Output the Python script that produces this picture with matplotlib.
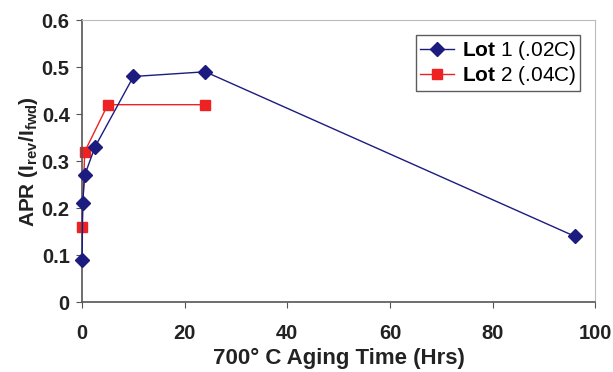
import matplotlib
matplotlib.use("Agg")
import matplotlib.pyplot as plt

plt.rcParams["font.family"] = ["Liberation Sans", "DejaVu Sans"]
plt.rcParams["mathtext.fontset"] = "custom"
plt.rcParams["mathtext.rm"] = "Liberation Sans"
plt.rcParams["mathtext.bf"] = "Liberation Sans:bold"

# Lot 1 (.02C)
lot1_hours = [0, 0.1, 0.5, 2.5, 10, 24, 96]
lot1_apr = [0.09, 0.21, 0.27, 0.33, 0.48, 0.49, 0.14]

# Lot 2 (.04C)
lot2_hours = [0, 0.5, 5, 24]
lot2_apr = [0.16, 0.32, 0.42, 0.42]

xticks = [0, 20, 40, 60, 80, 100]
yticks = [0, 0.1, 0.2, 0.3, 0.4, 0.5, 0.6]
ytick_labels = ["0", "0.1", "0.2", "0.3", "0.4", "0.5", "0.6"]

fig = plt.figure(figsize=(6.13, 3.72), dpi=100)
ax = fig.add_axes([0.134, 0.188, 0.837, 0.758])

ax.plot(lot1_hours, lot1_apr, color="#1c1c80", lw=1, marker="D",
        markersize=7, label=r"$\bf{Lot}$ 1 (.02C)", zorder=3, clip_on=False)
ax.plot(lot2_hours, lot2_apr, color="#ee2222", lw=1, marker="s",
        markersize=7, label=r"$\bf{Lot}$ 2 (.04C)", zorder=2, clip_on=False)

ax.set_xlim(0, 100)
ax.set_ylim(0, 0.6)
ax.set_xticks(xticks)
ax.set_yticks(yticks)
ax.set_yticklabels(ytick_labels)

for s in ["top", "right"]:
    ax.spines[s].set_color("#bbbbbb")
for s in ["left", "bottom"]:
    ax.spines[s].set_color("#555555")
    ax.spines[s].set_linewidth(1.2)

ax.tick_params(axis="both", labelsize=14.5, direction="out", length=4,
               color="#555555", pad=5)
ax.tick_params(axis="x", pad=12)
for lab in ax.get_xticklabels() + ax.get_yticklabels():
    lab.set_fontweight("bold")
    lab.set_color("#222222")

ax.set_xlabel("700° C Aging Time (Hrs)", fontsize=16, fontweight="bold",
              color="#222222", labelpad=3)
ax.set_ylabel(r"APR (I$_{\bf{rev}}$/I$_{\bf{fwd}}$)", fontsize=15,
              fontweight="bold", color="#222222", labelpad=1)

leg = ax.legend(loc="upper right", bbox_to_anchor=(0.971, 0.947), fontsize=15,
                frameon=True, fancybox=False, edgecolor="#333333",
                handlelength=1.6, borderpad=0.2, labelspacing=0.1,
                handletextpad=0.4, borderaxespad=0)
leg.get_frame().set_linewidth(1)

fig.savefig("out.png", dpi=100)
